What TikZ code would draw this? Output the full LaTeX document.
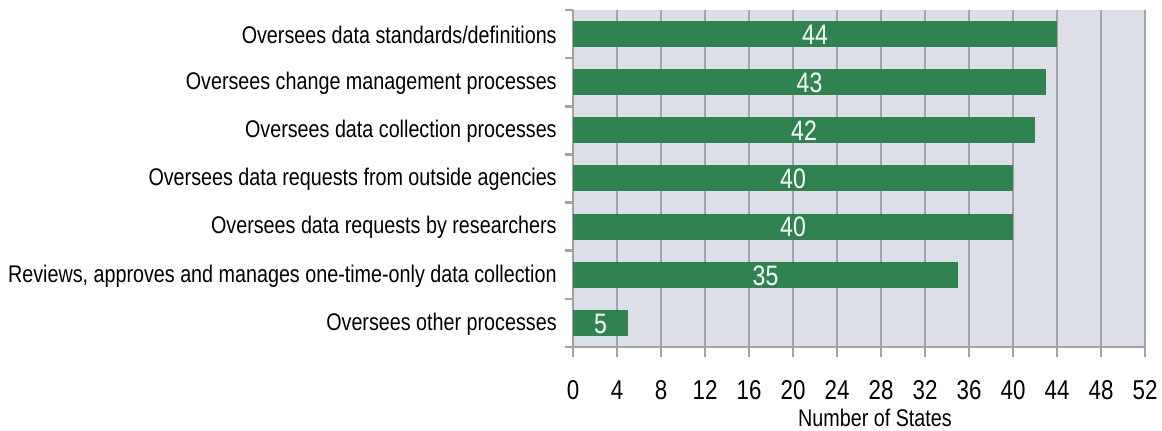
\documentclass[tikz,border=0pt]{standalone}
\usepackage{fontspec}
\setmainfont{Liberation Sans}
\newfontfamily\narrowfont[FakeStretch=0.82]{Liberation Sans}
\usetikzlibrary{positioning}
\definecolor{bargreen}{RGB}{46,131,79}
\definecolor{plotbg}{RGB}{220,223,232}
\definecolor{gridgray}{RGB}{163,163,163}

\begin{document}
\begin{tikzpicture}[x=0.02cm,y=-0.02cm]

  \tikzstyle{bar}=[fill=bargreen,draw=none];
  \tikzstyle{cat}=[anchor=east,inner sep=0pt,
    font=\narrowfont\fontsize{13.7}{15}\selectfont];
  \tikzstyle{val}=[text=white,inner sep=0pt,
    font=\narrowfont\fontsize{16}{18}\selectfont];
  \tikzstyle{tick}=[inner sep=0pt,
    font=\narrowfont\fontsize{15.5}{17}\selectfont];
  \tikzstyle{axis}=[gridgray,line width=1.4pt];

  \useasboundingbox (0,0) rectangle (1162,430);

  %% plot area and grid
  \fill[plotbg] (573,10) rectangle (1145,347);
  \foreach \k in {1,...,13}
    \draw[axis] (573+44*\k,10) -- (573+44*\k,357);
  \draw[axis] (573,10) -- (573,357);
  \draw[axis] (573,347) -- (1145,347);
  \foreach \j in {0,...,7}
    \draw[axis] (565,10+48.14*\j) -- (573,10+48.14*\j);

  %% bars
  \foreach \v/\txt [count=\i] in {44/{Oversees data standards/definitions},
      43/{Oversees change management processes},
      42/{Oversees data collection processes},
      40/{Oversees data requests from outside agencies},
      40/{Oversees data requests by researchers},
      35/{Reviews, approves and manages one-time-only data collection},
      5/{Oversees other processes}} {
    \fill[bar] (573,10+48.14*\i-37.07) rectangle (573+11*\v,10+48.14*\i-11.07);
    \node [val] (v\i) at (573+5.5*\v,10+48.14*\i-23.5) {\v};
    \node [cat] (c\i) at (557,10+48.14*\i-23) {\txt};
  }

  %% x axis labels
  \foreach \k in {0,...,13}
    \node [tick] (t\k) at (573+44*\k,390) {\pgfmathparse{int(4*\k)}\pgfmathresult};
  \node [tick,font=\narrowfont\fontsize{13.7}{15}\selectfont] (xlab) at (875,418) {Number of States};

\end{tikzpicture}
\end{document}
